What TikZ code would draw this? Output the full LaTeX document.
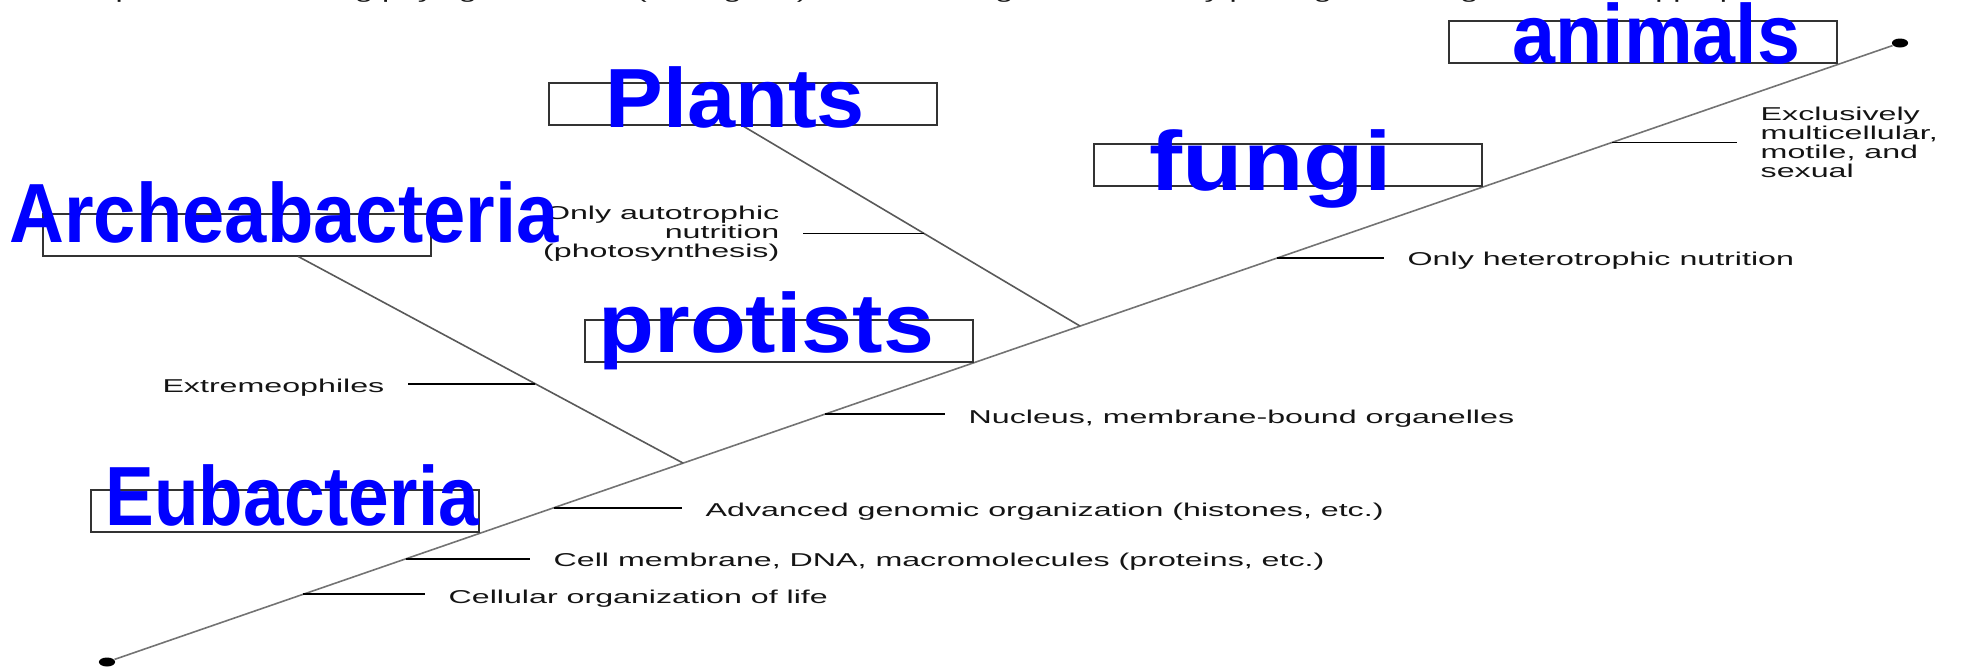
\documentclass[tikz,border=0pt]{standalone}
\usepackage{fontspec}
\setmainfont{Liberation Sans}
\usetikzlibrary{calc}

\begin{document}
\begin{tikzpicture}[x=0.5pt,y=-0.5pt,
  lbl/.style={text=black!92, font=\fontsize{9.3}{9.5}\selectfont, inner sep=0pt, xscale=1.73},
  hand/.style={text=blue, font=\fontsize{42}{44}\selectfont\bfseries, inner sep=0pt, anchor=base west},
  kbox/.style={draw=black!80, line width=1pt, minimum width=194pt, minimum height=21pt, inner sep=0pt},
  dot/.style={circle, fill=black, inner sep=0pt, minimum size=4.5pt, xscale=1.8},
  trunk/.style={draw=black!55, line width=0.8pt},
  branch/.style={draw=black!65, line width=0.8pt},
  tick/.style={draw=black, line width=0.9pt, shorten >=11.5pt}]
\useasboundingbox (0,0) rectangle (1961,670);
\clip (0,0) rectangle (1961,670);
\node [lbl, anchor=base west] (task) at (47,-2) {Complete the following phylogenetic tree (cladogram) of the six kingdoms of life by placing each kingdom in the appropriate box.};
\node [dot] (root) at (107,662) {};
\node [dot] (top) at (1900,43) {};
\draw [trunk] (root) -- (top);
\coordinate (t1) at ($(root)!0.1093!(top)$);
\coordinate (t2) at ($(root)!0.1668!(top)$);
\coordinate (t3) at ($(root)!0.2493!(top)$);
\coordinate (t4) at ($(root)!0.4005!(top)$);
\coordinate (t5) at ($(root)!0.6525!(top)$);
\coordinate (t6) at ($(root)!0.8394!(top)$);
\coordinate (arj) at ($(root)!0.3213!(top)$);
\coordinate (plj) at ($(root)!0.5427!(top)$);
\node [kbox, anchor=south east] (eu) at ($(root)!0.208!(top)$) {};
\node [kbox] (ar) at (237,234.5) {};
\node [kbox] (pl) at (743,104) {};
\node [kbox, anchor=south east] (pr) at ($(root)!0.4836!(top)$) {};
\node [kbox, anchor=south east] (fu) at ($(root)!0.7674!(top)$) {};
\node [kbox, anchor=south east] (an) at ($(root)!0.9654!(top)$) {};
\coordinate (arb) at ($(ar.south west)!0.657!(ar.south east)$);
\draw [branch] (arb) -- (arj);
\draw [branch] (pl.south) -- (plj);
\coordinate (ex1) at ($(arb)!0.6156!(arj)$);
\coordinate (au1) at ($(pl.south)!0.537!(plj)$);
\node [lbl, anchor=base west] (cel) at (448,603) {Cellular organization of life};
\node [lbl, anchor=base west] (mem) at (553,566) {Cell membrane, DNA, macromolecules (proteins, etc.)};
\node [lbl, anchor=base west] (gen) at (705,516) {Advanced genomic organization (histones, etc.)};
\node [lbl, anchor=base west] (nuc) at (968,423) {Nucleus, membrane-bound organelles};
\node [lbl, anchor=base west] (het) at (1407,265) {Only heterotrophic nutrition};
\node [lbl, anchor=west, align=left] (mul) at (1760,142) {Exclusively\\multicellular,\\motile, and\\sexual};
\node [lbl, anchor=base east] (ext) at (385,392) {Extremeophiles};
\node [lbl, anchor=east, align=right] (aut) at (780,234) {Only autotrophic\\nutrition\\(photosynthesis)};
\draw [tick] (t1) -- (t1 -| cel.west);
\draw [tick] (t2) -- (t2 -| mem.west);
\draw [tick] (t3) -- (t3 -| gen.west);
\draw [tick] (t4) -- (t4 -| nuc.west);
\draw [tick] (t5) -- (t5 -| het.west);
\draw [tick] (t6) -- (t6 -| mul.west);
\draw [tick] (ex1) -- (ex1 -| ext.east);
\draw [tick] (au1) -- (au1 -| aut.east);
\node [hand, xscale=0.87] (eutxt) at (105,525) {Eubacteria};
\node [hand, xscale=0.905] (artxt) at (9,242) {Archeabacteria};
\node [hand, xscale=1.03] (pltxt) at (605,127) {Plants};
\node [hand, xscale=1.09] (prtxt) at (598,352) {protists};
\node [hand, xscale=1.18] (futxt) at (1149,190) {fungi};
\node [hand, xscale=0.92] (antxt) at (1512,63) {animals};
\end{tikzpicture}
\end{document}
